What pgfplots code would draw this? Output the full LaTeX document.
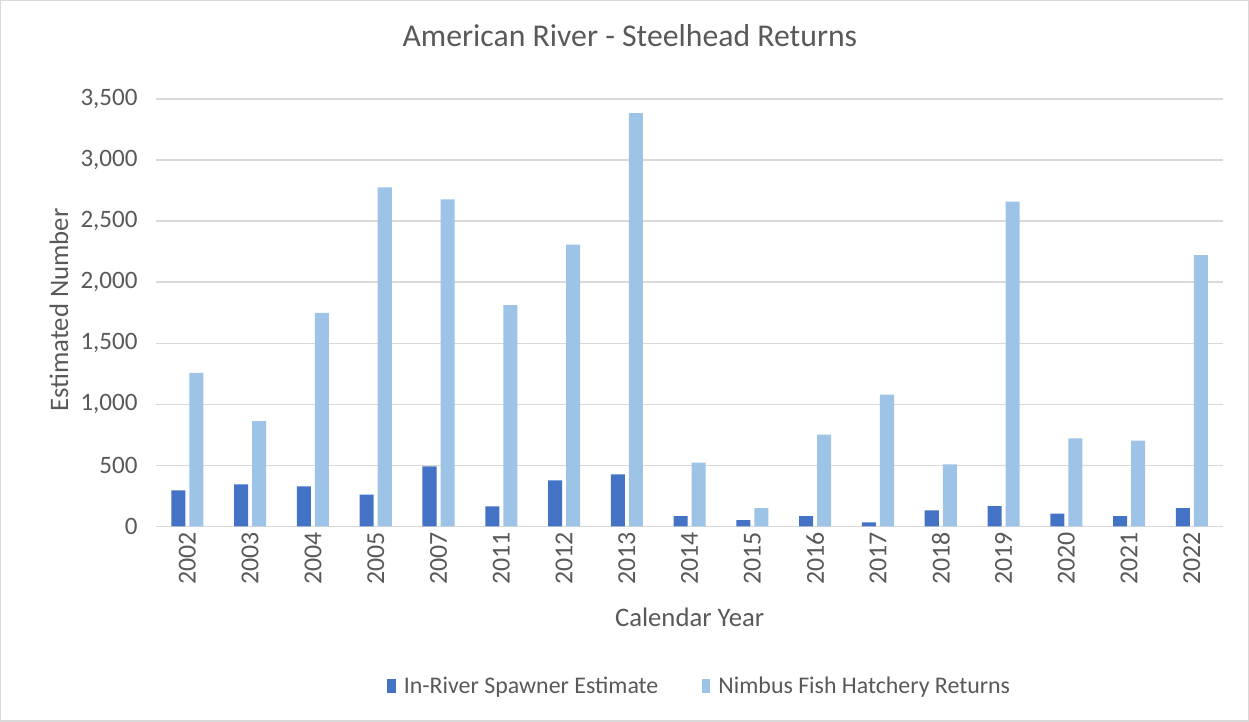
\documentclass[border=0pt]{standalone}
\usepackage{fontspec}
\setmainfont{Carlito}
\usepackage{pgfplots}
\pgfplotsset{compat=1.18}

\definecolor{spawn}{HTML}{4472C4}
\definecolor{hatch}{HTML}{9DC3E6}
\definecolor{txt}{HTML}{595959}
\definecolor{gridc}{HTML}{D9D9D9}

\pgfplotstableread{
idx year spawner hatchery
0  2002 295 1257
1  2003 344 863
2  2004 328 1749
3  2005 260 2776
4  2007 492 2678
5  2011 164 1811
6  2012 377 2306
7  2013 426 3383
8  2014 85  522
9  2015 52  150
10 2016 85  751
11 2017 33  1079
12 2018 131 508
13 2019 167 2658
14 2020 104 721
15 2021 85  702
16 2022 150 2221
}\steelhead

\begin{document}
\begin{tikzpicture}
\begin{axis}[
    name=main,
    scale only axis,
    width=639pt, height=256pt,
    ybar=2.4pt,
    bar width=8.4pt,
    xmin=-0.5, xmax=16.5,
    ymin=0, ymax=3500,
    ytick={0,500,...,3500},
    xtick=data,
    xticklabels={2002,2003,2004,2005,2007,2011,2012,2013,2014,2015,2016,2017,2018,2019,2020,2021,2022},
    x tick label style={rotate=90, anchor=east, font=\fontsize{15.5}{17}\selectfont, text=txt},
    y tick label style={font=\fontsize{15}{17}\selectfont, text=txt, xshift=-7.5pt},
    /pgf/number format/assume math mode=true,
    /pgf/number format/1000 sep={,},
    major tick length=0pt,
    ymajorgrids,
    grid style={gridc, line width=0.8pt},
    axis lines*=left,
    axis line style={draw=none},
    title={American River - Steelhead Returns},
    title style={font=\fontsize{19}{22}\selectfont, text=txt, at={(axis description cs:0.444,1.124)}, anchor=center},
    xlabel={Calendar Year},
    xlabel style={font=\fontsize{16}{19}\selectfont, text=txt, at={(axis description cs:0.5,-0.213)}, anchor=center},
    ylabel={Estimated Number},
    ylabel style={font=\fontsize{16}{19}\selectfont, text=txt, at={(axis description cs:-0.091,0.506)}, anchor=center},
    legend style={draw=none, at={(axis description cs:0.51,-0.375)}, anchor=center,
        font=\fontsize{14.3}{17}\selectfont, text=txt, legend columns=2,
        /tikz/every odd column/.append style={column sep=3pt},
        /tikz/every even column/.append style={column sep=24pt}},
    legend image code/.code={\fill[#1] (0pt,-3.6pt) rectangle (5pt,4.8pt);},
]
\addplot[fill=spawn, draw=none] table[x=idx, y=spawner] {\steelhead};
\addplot[fill=hatch, draw=none] table[x=idx, y=hatchery] {\steelhead};
\legend{In-River Spawner Estimate, Nimbus Fish Hatchery Returns}
\end{axis}
\draw[gridc, line width=0.8pt] ([shift={(-93pt,-116.4pt)}]main.south west) rectangle ([shift={(15pt,58.8pt)}]main.north east);
\end{tikzpicture}
\end{document}
